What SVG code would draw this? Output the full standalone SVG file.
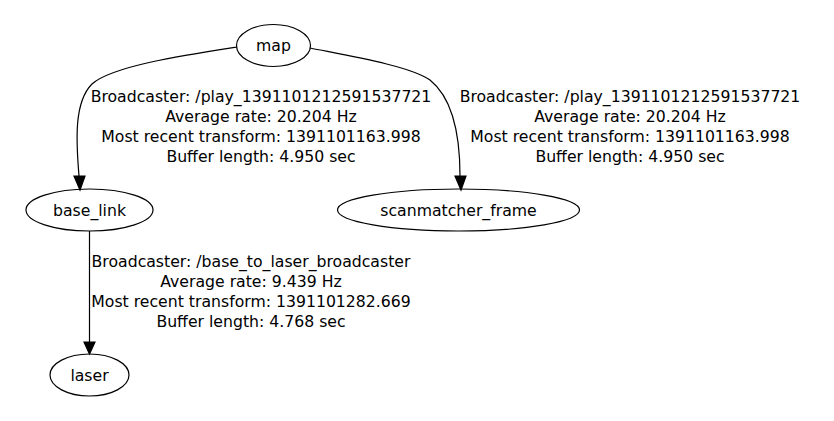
<svg xmlns="http://www.w3.org/2000/svg" width="834" height="421" viewBox="0 0 834 421">
<defs>
<style>
.node ellipse{fill:none;stroke:#000;stroke-width:1.2}
.node text{font-family:"DejaVu Sans",sans-serif;font-size:15.7px;fill:#000;text-anchor:middle}
.edges path{fill:none;stroke:#000;stroke-width:1.2}
.edges polygon{fill:#000;stroke:#000;stroke-width:1.2}
.lbl text{font-family:"DejaVu Sans",sans-serif;font-size:15.7px;fill:#000;text-anchor:middle}
</style>
</defs>
<rect width="834" height="421" fill="#fff"/>
<g class="edges" id="edges">
<path d="M237,47 C185,55 112,66 92,84 C74,102 76,140 79,176"/>
<polygon points="74,176 85,176 80,190"/>
<path d="M310,48 C350,56 410,66 430,80 C455,100 460,140 460,176"/>
<polygon points="455,176 466,176 461,190"/>
<path d="M89.5,231 L89.5,342"/>
<polygon points="84,342 95,342 89.5,354"/>
</g>
<g class="lbl" id="label-map-base_link">
<text x="261" y="102">Broadcaster: /play_1391101212591537721</text>
<text x="261" y="122">Average rate: 20.204 Hz</text>
<text x="261" y="142">Most recent transform: 1391101163.998</text>
<text x="261" y="162">Buffer length: 4.950 sec</text>
</g>
<g class="lbl" id="label-map-scanmatcher_frame">
<text x="630" y="102">Broadcaster: /play_1391101212591537721</text>
<text x="630" y="122">Average rate: 20.204 Hz</text>
<text x="630" y="142">Most recent transform: 1391101163.998</text>
<text x="630" y="162">Buffer length: 4.950 sec</text>
</g>
<g class="lbl" id="label-base_link-laser">
<text x="251" y="267">Broadcaster: /base_to_laser_broadcaster</text>
<text x="251" y="287">Average rate: 9.439 Hz</text>
<text x="251" y="307">Most recent transform: 1391101282.669</text>
<text x="251" y="327">Buffer length: 4.768 sec</text>
</g>
<g class="node" id="map">
<ellipse cx="273.5" cy="45.5" rx="37" ry="21"/>
<text x="273.5" y="51">map</text>
</g>
<g class="node" id="base_link">
<ellipse cx="89.5" cy="210" rx="63.5" ry="21"/>
<text x="89.5" y="215.5">base_link</text>
</g>
<g class="node" id="scanmatcher_frame">
<ellipse cx="458.5" cy="210" rx="121" ry="21"/>
<text x="458.5" y="215.5">scanmatcher_frame</text>
</g>
<g class="node" id="laser">
<ellipse cx="89.5" cy="375" rx="39.5" ry="21"/>
<text x="89.5" y="380.5">laser</text>
</g>
</svg>
